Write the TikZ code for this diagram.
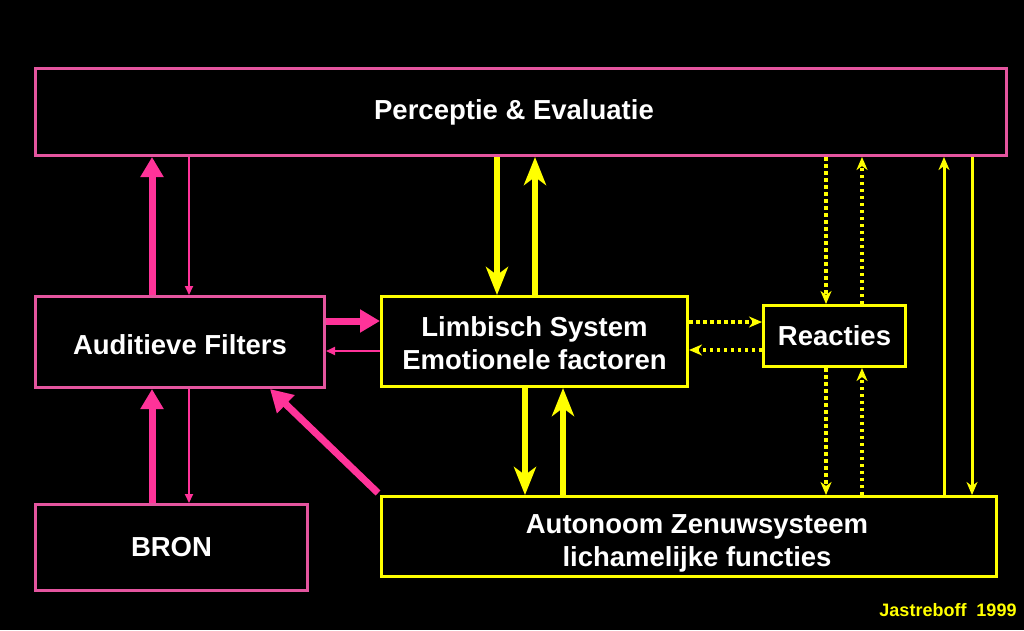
\documentclass[tikz,border=0pt]{standalone}
\usepackage{fontspec}
\setmainfont{Liberation Sans}
\usetikzlibrary{arrows.meta,calc}
\definecolor{pinkb}{HTML}{E4559F}
\definecolor{pinka}{HTML}{FF3399}
\definecolor{yel}{HTML}{FFFF00}
\begin{document}
\begin{tikzpicture}[x=1pt,y=-1pt,
  box/.style={draw,line width=3pt,inner sep=0pt,align=center,text=white,
    font=\bfseries\fontsize{27.5}{33}\selectfont},
  pbox/.style={box,draw=pinkb},
  ybox/.style={box,draw=yel},
  pinkbig/.style={pinka,line width=7pt,-{Triangle[length=20pt,width=22pt]}},
  pinksmall/.style={pinka,line width=2pt,-{Triangle[length=9pt,width=8pt]}},
  yelbig/.style={yel,line width=6pt,-{Stealth[length=28pt,width=22pt,inset=8pt]}},
  yelsmall/.style={yel,line width=3pt,-{Stealth[length=13pt,width=11pt,inset=4pt]}},
  yeldot/.style={yel,line width=3.5pt,dash pattern=on 3.5pt off 3.5pt,-{Stealth[length=13pt,width=11pt,inset=4pt]}}
]
\fill[black] (0,0) rectangle (1024,630);
\useasboundingbox (0,0) rectangle (1024,630);

\node[pbox,minimum width=971pt,minimum height=87pt] (perc) at (521,112) {Perceptie \& Evaluatie\hspace*{14pt}};
\node[pbox,minimum width=289pt,minimum height=91pt] (aud) at (180,342) {\rule{0pt}{26pt}Auditieve Filters};
\node[pbox,minimum width=272pt,minimum height=86pt] (bron) at (171.5,547.5) {BRON};
\node[ybox,minimum width=306pt,minimum height=90pt] (limb) at (534.5,341.5) {\rule{0pt}{23pt}Limbisch System\\Emotionele factoren};
\node[ybox,minimum width=142pt,minimum height=61pt] (reac) at (834.5,336) {Reacties};
\node[ybox,minimum width=615pt,minimum height=80pt] (auto) at (689,536.5) {\hspace*{16pt}\rule{0pt}{32pt}Autonoom Zenuwsysteem\\\hspace*{16pt}lichamelijke functies};
\node[text=yel,font=\bfseries\fontsize{18}{20}\selectfont,inner sep=0pt] (cite) at (948,610) {Jastreboff\ \ 1999};

\path (152,0) coordinate (xa) (189,0) coordinate (xb) (270,0) coordinate (xc)
      (497,0) coordinate (xd) (535,0) coordinate (xe) (525,0) coordinate (xf) (563,0) coordinate (xg)
      (826,0) coordinate (xh) (862,0) coordinate (xi) (944,0) coordinate (xj) (972,0) coordinate (xk)
      (0,321) coordinate (ya) (0,351) coordinate (yb) (0,322) coordinate (yc) (0,350) coordinate (yd);

% pink connectors
\draw[pinkbig] (aud.north -| xa) -- (perc.south -| xa);
\draw[pinksmall] (perc.south -| xb) -- (aud.north -| xb);
\draw[pinkbig] (bron.north -| xa) -- (aud.south -| xa);
\draw[pinksmall] (aud.south -| xb) -- (bron.north -| xb);
\draw[pinkbig] (aud.east |- ya) -- (limb.west |- ya);
\draw[pinksmall] (limb.west |- yb) -- (aud.east |- yb);
\draw[pinka,line width=7pt,-{Triangle[length=22pt,width=24pt]}] ($(auto.north west)+(-2,-2)$) -- (aud.south -| xc);

% yellow connectors
\draw[yelbig] (perc.south -| xd) -- (limb.north -| xd);
\draw[yelbig] (limb.north -| xe) -- (perc.south -| xe);
\draw[yelbig] (limb.south -| xf) -- (auto.north -| xf);
\draw[yelbig] (auto.north -| xg) -- (limb.south -| xg);
\draw[yeldot] (limb.east |- yc) -- (reac.west |- yc);
\draw[yeldot] (reac.west |- yd) -- (limb.east |- yd);
\draw[yeldot] (perc.south -| xh) -- (reac.north -| xh);
\draw[yeldot] (reac.north -| xi) -- (perc.south -| xi);
\draw[yeldot] (reac.south -| xh) -- (auto.north -| xh);
\draw[yeldot] (auto.north -| xi) -- (reac.south -| xi);
\draw[yelsmall] (auto.north -| xj) -- (perc.south -| xj);
\draw[yelsmall] (perc.south -| xk) -- (auto.north -| xk);
\end{tikzpicture}
\end{document}
